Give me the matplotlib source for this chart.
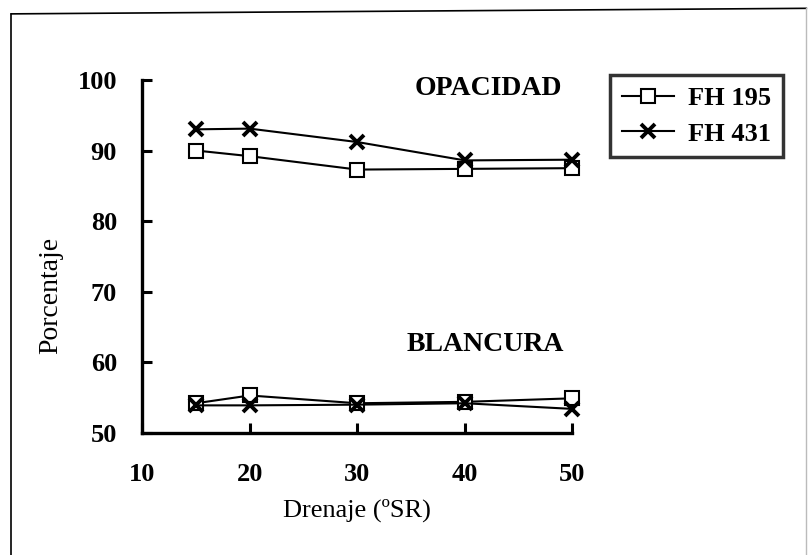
import matplotlib
matplotlib.use("Agg")
import matplotlib.pyplot as plt
from matplotlib.lines import Line2D

plt.rcParams["font.family"] = ["Liberation Serif", "DejaVu Serif"]

drenaje = [15, 20, 30, 40, 50]
opacidad_fh195 = [90.0, 89.2, 87.3, 87.4, 87.5]
opacidad_fh431 = [93.0, 93.1, 91.2, 88.6, 88.7]
blancura_fh195 = [54.2, 55.3, 54.2, 54.4, 54.9]
blancura_fh431 = [53.9, 53.9, 54.0, 54.2, 53.4]

x_ticks = [10, 20, 30, 40, 50]
y_ticks = [50, 60, 70, 80, 90, 100]

fig = plt.figure(figsize=(8.12, 5.55), dpi=100)
ax = fig.add_axes([0.175, 0.22, 0.530, 0.636])

sq = dict(color="black", lw=1.5, marker="s", markersize=10, clip_on=False,
          markerfacecolor="white", markeredgecolor="black", markeredgewidth=1.5)
xx = dict(color="black", lw=1.5, marker="x", markersize=10, clip_on=False,
          markeredgewidth=2.8)

ax.plot(drenaje, opacidad_fh195, label="FH 195", **sq)
ax.plot(drenaje, opacidad_fh431, label="FH 431", **xx)
ax.plot(drenaje, blancura_fh195, **sq)
ax.plot(drenaje, blancura_fh431, **xx)

ax.set_xlim(10, 50)
ax.set_ylim(50, 100)
ax.set_xticks(x_ticks)
ax.set_yticks(y_ticks)
ax.tick_params(direction="in", length=7, width=2.2, labelsize=19)
ax.tick_params(axis="x", pad=22)
ax.tick_params(axis="y", pad=18)
for lab in ax.get_xticklabels() + ax.get_yticklabels():
    lab.set_fontweight("bold")

for side in ["top", "right"]:
    ax.spines[side].set_visible(False)
for side in ["left", "bottom"]:
    ax.spines[side].set_linewidth(2.4)

ax.set_xlabel("Drenaje (ºSR)", fontsize=19)
ax.xaxis.set_label_coords(0.50, -0.185)
ax.set_ylabel("Porcentaje", fontsize=20)
ax.yaxis.set_label_coords(-0.184, 0.39)

ax.text(0.805, 0.977, "OPACIDAD", transform=ax.transAxes, ha="center", va="center",
        fontsize=20, fontweight="bold")
ax.text(0.798, 0.25, "BLANCURA", transform=ax.transAxes, ha="center", va="center",
        fontsize=20, fontweight="bold")

leg = fig.legend(loc="upper left", bbox_to_anchor=(0.751, 0.865), borderaxespad=0,
                 fancybox=False, edgecolor="black", handlelength=2.0, handletextpad=0.5,
                 borderpad=0.45, prop={"size": 19, "weight": "bold"}, labelspacing=0.45)
leg.get_frame().set_linewidth(2.5)

# outer frame of the figure
fig.add_artist(Line2D([0.014, 0.014], [0.0, 0.975], color="black", lw=1.2))
fig.add_artist(Line2D([0.014, 0.993], [0.975, 0.985], color="black", lw=1.2))
fig.add_artist(Line2D([0.993, 0.993], [0.985, 0.0], color="#bbbbbb", lw=1.0))

plt.savefig("out.png", dpi=100)
